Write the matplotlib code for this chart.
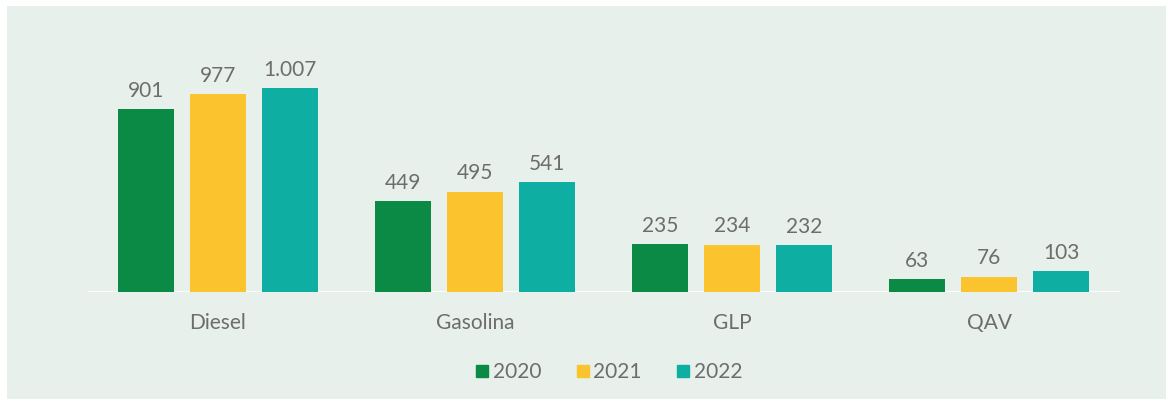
import matplotlib
matplotlib.use("Agg")
import matplotlib.pyplot as plt
from matplotlib.patches import Rectangle
from matplotlib.lines import Line2D
import numpy as np

categories = ["Diesel", "Gasolina", "GLP", "QAV"]
years = ["2020", "2021", "2022"]
values_2020 = [901, 449, 235, 63]
values_2021 = [977, 495, 234, 76]
values_2022 = [1007, 541, 232, 103]
labels_2020 = ["901", "449", "235", "63"]
labels_2021 = ["977", "495", "234", "76"]
labels_2022 = ["1.007", "541", "232", "103"]

colors = ["#0b8a45", "#fbc32e", "#0eaea2"]
bg = "#e7f0ea"
text_color = "#6d6d6d"

plt.rcParams["font.family"] = ["Lato", "DejaVu Sans"]

W, H = 1175, 404
fig = plt.figure(figsize=(W / 100, H / 100), dpi=100)
fig.patch.set_facecolor("white")

# light panel behind the chart
fig.patches.append(Rectangle((7 / W, 5 / H), (1166 - 7) / W, (398 - 5) / H,
                             transform=fig.transFigure, facecolor=bg,
                             edgecolor="none", zorder=-5))

left_px, right_px = 88, 1120
base_px, top_px = 292, 69
ax = fig.add_axes([left_px / W, (H - base_px) / H,
                   (right_px - left_px) / W, (base_px - top_px) / H])
ax.set_facecolor("none")
ax.set_zorder(2)

x = np.arange(len(categories))
step = 257.0
width = 56 / step
offset = 72 / step
series = [values_2020, values_2021, values_2022]
labels = [labels_2020, labels_2021, labels_2022]

for i, (vals, labs, c) in enumerate(zip(series, labels, colors)):
    xs = x + (i - 1) * offset
    ax.bar(xs, vals, width=width, color=c, zorder=2)
    for xi, v, lab in zip(xs, vals, labs):
        ax.annotate(lab, (xi, v), xytext=(0, 6), textcoords="offset points",
                    ha="center", va="bottom", fontsize=15, color=text_color)

ax.set_xlim(-(218 - left_px) / step, (right_px - 218) / step)
ax.set_ylim(0, (base_px - top_px) / 0.2026)
ax.axhline(0, color="white", lw=1.2, zorder=1)

ax.set_xticks(x)
ax.set_xticklabels(categories, fontsize=15, color=text_color)
ax.tick_params(axis="x", length=0, pad=15)
ax.set_yticks([])
for s in ax.spines.values():
    s.set_visible(False)

handles = [Line2D([], [], marker="s", linestyle="none", markersize=8,
                  markerfacecolor=c, markeredgecolor=c) for c in colors]
fig.legend(handles, years, loc="center", bbox_to_anchor=(608 / W, 1 - 372 / H),
           ncol=3, frameon=False, fontsize=15, labelcolor=text_color,
           handletextpad=0.1, columnspacing=1.6, handlelength=0.8)

fig.savefig("out.png", dpi=100, facecolor=fig.get_facecolor())
